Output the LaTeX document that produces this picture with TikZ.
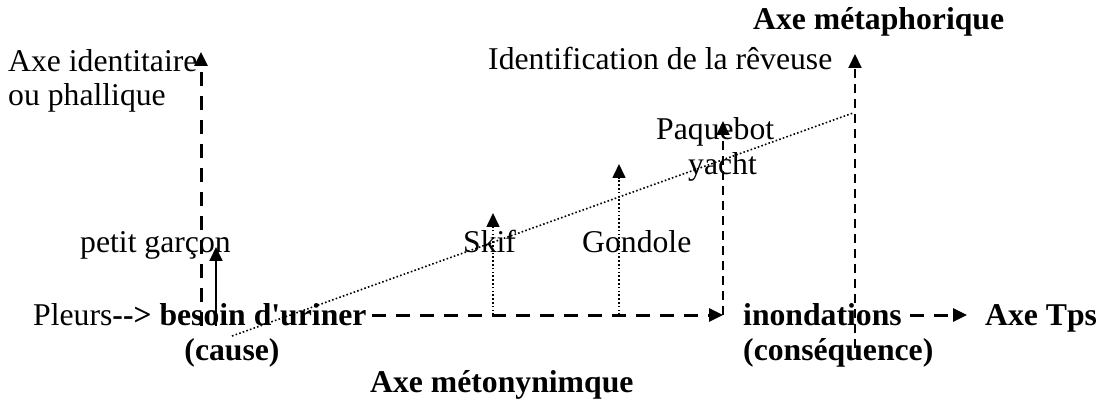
\documentclass[tikz,border=0pt]{standalone}
\usepackage{fontspec}
\setmainfont{Liberation Serif}[Ligatures=TeXOff]
\usetikzlibrary{arrows.meta}
\begin{document}
\begin{tikzpicture}[x=1pt,y=-1pt,
  lbl/.style={inner sep=0pt,anchor=base west,font=\fontsize{31.7}{34}\selectfont},
  blbl/.style={lbl,font=\fontsize{31.7}{34}\selectfont\bfseries},
  tip/.style={-{Triangle[width=13pt,length=14pt]}},
  thickdash/.style={tip,line width=3pt,dash pattern=on 14pt off 10pt},
  thindash/.style={tip,line width=2pt,dash pattern=on 9pt off 6pt},
  dots/.style={line width=1.6pt,dash pattern=on 1.6pt off 2.2pt},
  dotarrow/.style={dots,tip},
  solidarrow/.style={tip,line width=2pt}]
\useasboundingbox (0,0) rectangle (1106,406);
% texts
\node[lbl] (axeid) at (8,72) {Axe identitaire};
\node[lbl] (phal) at (8,106) {ou phallique};
\node[lbl] (garcon) at (80,253) {petit garçon};
\node[lbl] (pleurs) at (33,325) {Pleurs\textbf{--> besoin d'uriner}};
\node[blbl,anchor=base] (cause) at (232,360) {(cause)};
\node[blbl] (meto) at (370,392) {Axe métonynimque};
\node[lbl] (skif) at (463,252) {Skif};
\node[lbl] (gond) at (582,252) {Gondole};
\node[lbl] (paq) at (656,140) {Paquebot};
\node[lbl] (yacht) at (688,175) {yacht};
\node[lbl] (ident) at (488,70) {Identification de la rêveuse};
\node[blbl] (meta) at (753,30) {Axe métaphorique};
\node[blbl] (inond) at (743,325) {inondations};
\node[blbl] (cons) at (743,360) {(conséquence)};
\node[blbl] (tps) at (985,325) {Axe Tps};
% coordinates
\coordinate (idB) at (201,326);
\coordinate (idT) at (201,52);
\coordinate (gB) at (216,326);
\coordinate (gT) at (216,247);
\coordinate (hS) at (372,315);
\coordinate (hE) at (723,315);
\coordinate (pT) at (723,121);
\coordinate (sB) at (493,315);
\coordinate (sT) at (493,213);
\coordinate (oB) at (619,315);
\coordinate (oT) at (619,164);
\coordinate (mB) at (855,348);
\coordinate (mT) at (855,54);
\coordinate (dS) at (232,336);
\coordinate (dE) at (853,113);
\coordinate (tS) at (910,315);
\coordinate (tE) at (967,315);
% connectors
\draw[thickdash] (idB) -- (idT);
\draw[solidarrow] (gB) -- (gT);
\draw[thickdash] (hS) -- (hE);
\draw[thindash] (hE) -- (pT);
\draw[dotarrow] (sB) -- (sT);
\draw[dotarrow] (oB) -- (oT);
\draw[thindash] (mB) -- (mT);
\draw[dots] (dS) -- (dE);
\draw[thickdash] (tS) -- (tE);
\end{tikzpicture}
\end{document}
